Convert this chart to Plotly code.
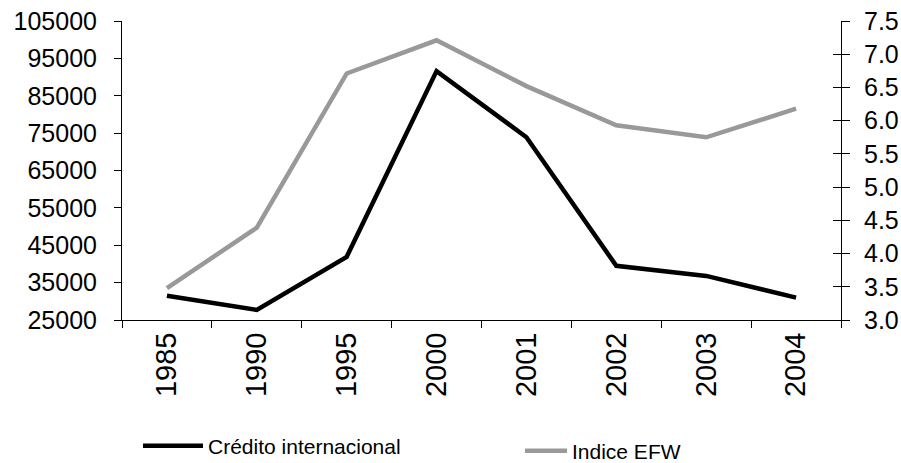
import plotly.graph_objects as go

years = ["1985", "1990", "1995", "2000", "2001", "2002", "2003", "2004"]
credito = [31500, 27700, 41900, 91600, 73900, 39500, 36800, 31000]
efw = [3.48, 4.39, 6.71, 7.21, 6.52, 5.93, 5.75, 6.18]

FONT = "Liberation Sans, Arial, sans-serif"
W, H = 901, 463

fig = go.Figure()
fig.add_trace(go.Scatter(x=years, y=credito, mode="lines", name="Crédito internacional",
                         line=dict(color="#000000", width=4.5), yaxis="y", legend="legend"))
fig.add_trace(go.Scatter(x=years, y=efw, mode="lines", name="Indice EFW",
                         line=dict(color="#999999", width=4.5), yaxis="y2", legend="legend2"))
# helper trace so the inner tick marks of the right axis are drawn
fig.add_trace(go.Scatter(x=years, y=efw, mode="lines", line=dict(width=0, color="rgba(0,0,0,0)"),
                         yaxis="y3", showlegend=False, hoverinfo="skip"))

fig.update_layout(
    width=W, height=H,
    margin=dict(l=122, r=60, t=21, b=143, autoexpand=False),
    paper_bgcolor="white", plot_bgcolor="white",
    font=dict(family=FONT, color="black"),
    xaxis=dict(type="category", categoryorder="array", categoryarray=years,
               range=[-0.5, 7.5], tickson="boundaries", ticks="outside", ticklen=7,
               tickcolor="black", tickangle=-90, tickfont=dict(size=29), automargin=False,
               showline=True, linecolor="black", linewidth=1, showgrid=False, zeroline=False),
    yaxis=dict(range=[25000, 105000], tick0=25000, dtick=10000, tickformat="d",
               ticks="outside", ticklen=7, tickcolor="black", tickfont=dict(size=25),
               ticklabelstandoff=12, automargin=False,
               showline=True, linecolor="black", linewidth=1, showgrid=False, zeroline=False),
    yaxis2=dict(range=[3.0, 7.5], tick0=3.0, dtick=0.5, tickformat=".1f", overlaying="y",
                side="right", anchor="x", ticks="outside", ticklen=8, tickcolor="black",
                tickfont=dict(size=25), ticklabelstandoff=9, automargin=False,
                showline=True, linecolor="black", linewidth=1, showgrid=False, zeroline=False),
    yaxis3=dict(range=[3.0, 7.5], tick0=3.0, dtick=0.5, overlaying="y", side="right",
                anchor="x", ticks="inside", ticklen=8, tickcolor="black", automargin=False,
                showticklabels=False, showline=False, showgrid=False, zeroline=False),
    legend=dict(x=138 / W, y=1 - 446 / H, xref="container", yref="container",
                xanchor="left", yanchor="middle", itemwidth=60,
                font=dict(size=21, family=FONT), bgcolor="rgba(0,0,0,0)"),
    legend2=dict(x=520 / W, y=1 - 451 / H, xref="container", yref="container",
                 xanchor="left", yanchor="middle", itemwidth=42,
                 font=dict(size=21, family=FONT), bgcolor="rgba(0,0,0,0)"),
)

fig.write_html("out.html", config={"displayModeBar": False},
               post_script="document.body.style.margin='0';document.body.style.padding='0';")
